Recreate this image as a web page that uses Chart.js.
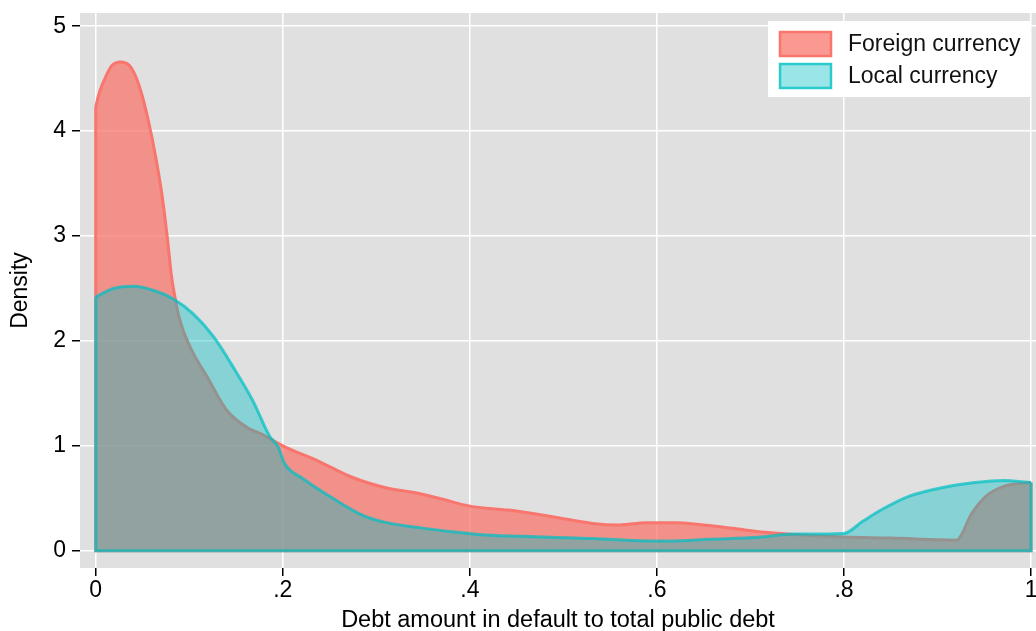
<!DOCTYPE html>
<html>
<head>
<meta charset="utf-8">
<script src="https://cdn.jsdelivr.net/npm/chart.js@4.4.1/dist/chart.umd.min.js"></script>
<style>
  html, body { margin: 0; padding: 0; background: #ffffff; }
  #wrap { width: 1036px; height: 631px; }
</style>
</head>
<body>
<div id="wrap"><canvas id="densityChart" width="1036" height="631"></canvas></div>
<script>
// kernel density of debt in default / total public debt
var seriesNames = ["Foreign currency", "Local currency"];

var foreignX = [0, 0.0036, 0.0107, 0.0178, 0.0267, 0.0356, 0.0428, 0.0499, 0.057, 0.064, 0.0712, 0.0765, 0.0811,
                0.0847, 0.089, 0.101, 0.119, 0.140, 0.161, 0.180, 0.200, 0.239, 0.274, 0.310, 0.343, 0.371, 0.400,
                0.441, 0.477, 0.510, 0.531, 0.560, 0.588, 0.620, 0.645, 0.681, 0.716, 0.745, 0.800, 0.850, 0.920,
                0.937, 0.952, 0.973, 1.0];
var foreignY = [4.23, 4.36, 4.52, 4.63, 4.66, 4.63, 4.52, 4.33, 4.07, 3.76, 3.37, 2.99, 2.61,
                2.42, 2.23, 1.94, 1.66, 1.34, 1.18, 1.10, 1.0, 0.85, 0.70, 0.60, 0.55, 0.49, 0.425,
                0.387, 0.34, 0.29, 0.26, 0.245, 0.267, 0.267, 0.25, 0.213, 0.175, 0.155, 0.13, 0.12, 0.10,
                0.36, 0.52, 0.62, 0.65];

var localX = [0, 0.019, 0.041, 0.062, 0.083, 0.104, 0.126, 0.147, 0.168, 0.186, 0.195, 0.202, 0.221, 0.257,
              0.285, 0.310, 0.346, 0.381, 0.417, 0.470, 0.504, 0.531, 0.567, 0.613, 0.656, 0.709, 0.745, 0.800,
              0.820, 0.840, 0.870, 0.910, 0.940, 0.970, 1.0];
var localY = [2.42, 2.50, 2.52, 2.48, 2.40, 2.26, 2.04, 1.75, 1.43, 1.09, 0.99, 0.83, 0.69, 0.48,
              0.34, 0.27, 0.22, 0.18, 0.15, 0.133, 0.124, 0.117, 0.10, 0.092, 0.108, 0.127, 0.159, 0.165,
              0.28, 0.39, 0.52, 0.61, 0.65, 0.67, 0.65];

var xTickValues = [0, 0.2, 0.4, 0.6, 0.8, 1];
var xTickLabels = ["0", ".2", ".4", ".6", ".8", "1"];
var yTickValues = [0, 1, 2, 3, 4, 5];
var yTickLabels = ["0", "1", "2", "3", "4", "5"];

var xTitle = "Debt amount in default to total public debt";
var yTitle = "Density";

var lineColors = ["#F8766D", "rgba(0,191,196,0.72)"];
var fillColors = ["rgba(248,118,109,0.75)", "rgba(0,191,196,0.40)"];
var FONT = "'Liberation Sans', Arial, sans-serif";

function toPoints(xs, ys) {
    return xs.map(function (x, i) { return { x: x, y: ys[i] }; });
}
// closing edges: right side down to 0, along the bottom, back up at x=0
function outline(xs, ys) {
    var n = xs.length - 1;
    return [{ x: xs[n], y: ys[n] }, { x: xs[n], y: 0 }, { x: xs[0], y: 0 }, { x: xs[0], y: ys[0] }];
}

var plotBg = {
    id: "plotBg",
    beforeDraw: function (chart) {
        var a = chart.chartArea, ctx = chart.ctx;
        ctx.save();
        ctx.fillStyle = "#e0e0e0";
        ctx.fillRect(a.left, a.top, a.right - a.left, a.bottom - a.top);
        ctx.restore();
    }
};

// stata-style legend box in the top right corner of the plot
var boxLegend = {
    id: "boxLegend",
    afterDraw: function (chart) {
        var ctx = chart.ctx;
        ctx.save();
        ctx.fillStyle = "#ffffff";
        ctx.fillRect(768, 21, 262, 76);
        var rows = [44, 76];
        seriesNames.forEach(function (name, i) {
            var cy = rows[i];
            ctx.fillStyle = "#ffffff";
            ctx.fillRect(779, cy - 13, 53, 26);
            ctx.fillStyle = fillColors[i];
            ctx.fillRect(779, cy - 13, 53, 26);
            ctx.strokeStyle = lineColors[i];
            ctx.lineWidth = 2.5;
            ctx.strokeRect(780, cy - 12, 51, 24);
            ctx.fillStyle = "#111111";
            ctx.font = "23px " + FONT;
            ctx.textBaseline = "middle";
            ctx.textAlign = "left";
            ctx.fillText(name, 848, cy + 1);
        });
        ctx.restore();
    }
};

var ctx = document.getElementById("densityChart").getContext("2d");
var densityChart = new Chart(ctx, {
    type: "line",
    data: {
        datasets: [
            {
                label: seriesNames[0],
                data: toPoints(foreignX, foreignY),
                borderColor: lineColors[0],
                backgroundColor: fillColors[0],
                borderWidth: 3,
                fill: "origin",
                cubicInterpolationMode: "monotone",
                pointRadius: 0,
                order: 4
            },
            {
                label: seriesNames[0] + " edge",
                data: outline(foreignX, foreignY),
                borderColor: lineColors[0],
                borderWidth: 3,
                fill: false,
                tension: 0,
                pointRadius: 0,
                order: 3
            },
            {
                label: seriesNames[1],
                data: toPoints(localX, localY),
                borderColor: lineColors[1],
                backgroundColor: fillColors[1],
                borderWidth: 3,
                fill: "origin",
                cubicInterpolationMode: "monotone",
                pointRadius: 0,
                order: 2
            },
            {
                label: seriesNames[1] + " edge",
                data: outline(localX, localY),
                borderColor: lineColors[1],
                borderWidth: 3,
                fill: false,
                tension: 0,
                pointRadius: 0,
                order: 1
            }
        ]
    },
    options: {
        responsive: false,
        animation: false,
        devicePixelRatio: 1,
        layout: { autoPadding: false, padding: { top: 13, right: 0, left: 0, bottom: 0 } },
        plugins: {
            legend: { display: false },
            tooltip: { enabled: false }
        },
        scales: {
            x: {
                type: "linear",
                min: -0.0168,
                max: 1.0053,
                afterFit: function (s) { s.height = 63; s.paddingLeft = 0; s.paddingRight = 0; },
                afterBuildTicks: function (s) {
                    s.ticks = xTickValues.map(function (v) { return { value: v }; });
                },
                grid: { color: "#ffffff", lineWidth: 1.5, tickColor: "#000000", tickLength: 8, tickWidth: 1.5 },
                border: { display: false },
                ticks: {
                    autoSkip: false,
                    maxRotation: 0,
                    padding: 1,
                    color: "#000000",
                    font: { family: FONT, size: 23 },
                    callback: function (v) {
                        var i = xTickValues.indexOf(v);
                        return i >= 0 ? xTickLabels[i] : "";
                    }
                },
                title: {
                    display: true,
                    text: xTitle,
                    color: "#000000",
                    font: { family: FONT, size: 23.5, lineHeight: 1 },
                    padding: { top: 0, bottom: -1 }
                }
            },
            y: {
                type: "linear",
                min: -0.165,
                max: 5.126,
                afterFit: function (s) { s.width = 80; s.paddingTop = 0; s.paddingBottom = 0; },
                afterBuildTicks: function (s) {
                    s.ticks = yTickValues.map(function (v) { return { value: v }; });
                },
                grid: { color: "#ffffff", lineWidth: 1.5, tickColor: "#000000", tickLength: 8, tickWidth: 1.5 },
                border: { display: false },
                ticks: {
                    autoSkip: false,
                    padding: 6,
                    color: "#000000",
                    font: { family: FONT, size: 23 },
                    callback: function (v) {
                        var i = yTickValues.indexOf(v);
                        return i >= 0 ? yTickLabels[i] : "";
                    }
                },
                title: {
                    display: true,
                    text: yTitle,
                    color: "#000000",
                    font: { family: FONT, size: 23 },
                    padding: { top: 7, bottom: 0 }
                }
            }
        }
    },
    plugins: [plotBg, boxLegend]
});
</script>
</body>
</html>
